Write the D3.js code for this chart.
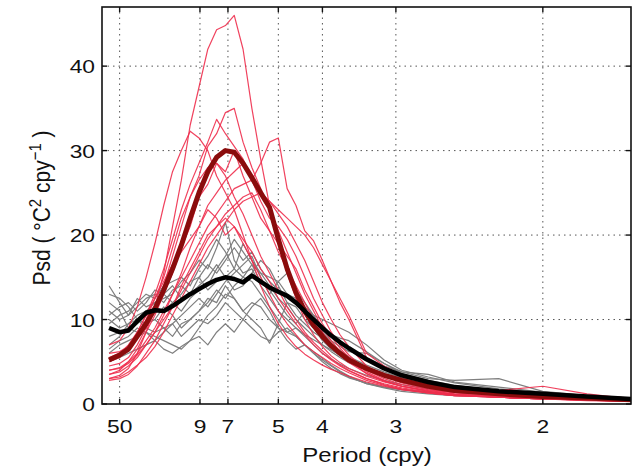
<!DOCTYPE html>
<html lang="en">
<head>
<meta charset="UTF-8">
<title>Psd</title>
<script src="https://d3js.org/d3.v7.min.js"></script>
<style>
    body { margin: 0; background: #fff; }
    text { font-family: "Liberation Sans", Arial, Helvetica, sans-serif; fill: #111; }
</style>
</head>
<body>
<script>
    // frequency (cycles per year) of each spectral estimate
    const freq = [0.008, 0.02, 0.03, 0.04, 0.05, 0.06, 0.07, 0.08, 0.09, 0.10,
                  0.11, 0.12, 0.13, 0.14, 0.15, 0.16, 0.17, 0.18, 0.19, 0.20,
                  0.21, 0.22, 0.23, 0.24, 0.25, 0.26, 0.27, 0.28, 0.30, 0.32,
                  0.34, 0.37, 0.40, 0.45, 0.50, 0.55, 0.60];

    const periodTicks = [50, 9, 7, 5, 4, 3, 2];
    const psdTicks = [0, 10, 20, 30, 40];

    // thin red runs
    const redRuns = [
        [3.0, 3.4, 4.2, 6.0, 8.5, 11.5, 15.5, 21.0, 26.5, 33.0, 37.5, 42.0, 44.3, 44.8, 46.0, 42.0, 35.0, 29.0, 23.5, 19.0, 15.5, 12.5, 10.0, 8.2, 6.8, 5.7, 4.9, 4.2, 3.3, 2.6, 2.1, 1.6, 1.2, 0.9, 0.7, 0.5, 0.4],
        [4.5, 4.8, 5.5, 7.0, 9.0, 11.0, 14.0, 17.5, 21.0, 24.5, 27.0, 30.5, 32.0, 34.5, 35.0, 31.0, 28.0, 25.5, 23.0, 20.5, 18.0, 15.5, 13.0, 11.0, 9.0, 7.5, 6.2, 5.2, 3.6, 2.7, 2.1, 1.5, 1.1, 0.8, 0.6, 0.5, 0.35],
        [5.5, 6.0, 7.0, 8.5, 10.5, 13.0, 16.0, 19.5, 23.0, 26.0, 28.5, 31.0, 33.7, 32.0, 30.5, 29.0, 26.5, 24.0, 22.0, 21.0, 19.5, 17.5, 15.0, 12.5, 10.5, 8.5, 7.0, 5.8, 4.0, 3.0, 2.3, 1.7, 1.3, 1.0, 0.8, 0.6, 0.45],
        [7.0, 7.5, 9.0, 11.5, 15.0, 19.0, 23.5, 27.5, 30.0, 32.3, 31.5, 30.0, 27.0, 25.0, 23.0, 20.0, 17.0, 14.0, 11.5, 9.5, 8.0, 6.8, 5.9, 5.2, 4.6, 4.1, 3.7, 3.3, 2.6, 2.1, 1.7, 1.3, 1.0, 0.8, 0.6, 0.5, 0.35],
        [4.0, 4.3, 5.0, 6.0, 7.5, 9.0, 11.0, 13.0, 15.0, 17.0, 19.0, 21.0, 22.5, 24.0, 25.5, 26.0, 26.5, 28.5, 31.0, 31.5, 25.5, 23.5, 20.5, 19.3, 17.0, 14.5, 12.0, 10.0, 5.5, 4.2, 3.2, 2.4, 1.7, 1.2, 0.9, 0.7, 0.5],
        [3.5, 3.8, 4.5, 5.5, 7.0, 8.5, 10.5, 13.0, 15.5, 18.5, 21.0, 23.5, 25.0, 26.5, 27.5, 28.5, 27.0, 25.0, 24.0, 22.5, 21.0, 19.0, 17.0, 14.5, 12.0, 10.0, 8.2, 6.8, 4.5, 3.3, 2.5, 1.8, 1.4, 1.0, 0.8, 0.6, 0.45],
        [6.0, 6.2, 6.8, 8.0, 10.0, 12.5, 15.0, 18.5, 22.0, 24.5, 26.5, 28.0, 28.5, 27.0, 24.5, 22.5, 20.0, 17.5, 15.5, 13.5, 11.5, 10.0, 8.5, 7.3, 6.3, 5.4, 4.6, 4.0, 3.0, 2.4, 1.9, 1.4, 1.1, 0.8, 0.6, 0.5, 0.35],
        [3.0, 3.2, 3.8, 4.6, 5.5, 6.8, 8.5, 10.5, 12.5, 14.5, 16.5, 18.5, 20.0, 21.5, 23.0, 24.0, 24.5, 25.0, 24.0, 23.0, 22.0, 21.0, 20.0, 18.5, 16.5, 14.5, 12.5, 10.5, 6.0, 4.5, 3.4, 2.6, 2.0, 1.4, 1.0, 0.7, 0.5],
        [2.8, 3.0, 3.5, 4.5, 6.0, 7.5, 9.5, 11.5, 14.0, 16.0, 18.0, 20.0, 21.0, 22.0, 21.0, 19.5, 18.0, 16.0, 14.5, 12.5, 11.0, 9.5, 8.2, 7.0, 6.0, 5.2, 4.5, 3.9, 3.0, 2.3, 1.8, 1.3, 1.0, 0.8, 0.6, 0.4, 0.3],
        [5.0, 5.5, 6.5, 8.5, 10.5, 12.5, 14.5, 16.5, 18.0, 19.5, 21.0, 23.0, 22.0, 20.0, 21.0, 19.0, 17.0, 15.0, 13.0, 11.0, 9.5, 8.2, 7.0, 6.2, 5.5, 4.8, 4.2, 3.7, 2.8, 2.2, 1.7, 1.3, 1.0, 0.8, 0.6, 0.45, 0.3],
        [4.0, 4.2, 4.8, 5.8, 7.0, 8.5, 10.0, 11.5, 13.5, 15.5, 17.5, 19.5, 21.0, 22.5, 23.5, 24.5, 25.0, 23.0, 20.5, 18.0, 16.0, 14.0, 12.0, 10.0, 8.5, 7.0, 5.8, 4.9, 3.6, 2.7, 2.1, 1.6, 1.4, 1.6, 2.1, 1.2, 0.6],
        [3.5, 4.0, 5.0, 6.5, 8.5, 10.5, 13.0, 15.5, 18.5, 21.0, 24.5, 26.0, 28.5, 27.5, 30.0, 27.0, 24.5, 22.0, 20.5, 19.0, 17.5, 16.0, 13.5, 11.5, 9.5, 8.0, 6.6, 5.5, 3.8, 2.8, 2.1, 1.5, 1.1, 0.8, 0.6, 0.45, 0.3]
    ];

    // thin grey runs
    const greyRuns = [
        [10.0, 9.0, 9.5, 10.5, 11.0, 12.0, 12.5, 13.0, 14.5, 15.5, 17.0, 16.0, 18.5, 21.5, 17.0, 15.5, 16.0, 14.0, 12.5, 11.0, 10.0, 9.0, 8.2, 7.6, 7.0, 6.4, 5.8, 5.2, 4.3, 3.6, 3.0, 2.3, 1.8, 1.3, 1.0, 0.8, 0.6],
        [14.0, 12.0, 10.5, 11.5, 12.5, 13.0, 12.0, 13.5, 14.0, 13.0, 15.0, 16.5, 15.5, 17.0, 18.5, 17.0, 18.0, 16.0, 14.5, 13.5, 13.0, 12.5, 11.5, 10.5, 10.0, 9.5, 9.0, 8.5, 7.0, 5.2, 4.0, 3.2, 2.5, 1.8, 1.3, 1.0, 0.7],
        [12.0, 11.0, 9.0, 8.5, 9.5, 10.0, 9.0, 9.5, 10.5, 11.5, 12.5, 11.5, 13.0, 14.5, 15.5, 16.5, 17.5, 15.0, 13.0, 14.5, 15.5, 13.5, 12.0, 10.5, 9.0, 8.0, 7.2, 6.5, 5.5, 4.5, 3.8, 3.0, 2.8, 3.0, 1.5, 1.0, 0.7],
        [6.0, 7.0, 7.5, 8.0, 8.5, 8.0, 7.5, 7.0, 6.5, 7.5, 9.0, 10.5, 11.5, 13.0, 12.5, 11.0, 10.0, 9.0, 7.2, 9.5, 12.0, 11.5, 10.0, 9.0, 7.5, 6.5, 5.7, 5.0, 4.0, 3.3, 2.7, 2.1, 1.6, 1.2, 0.9, 0.7, 0.5],
        [9.5, 10.5, 11.0, 12.0, 13.0, 12.5, 14.0, 14.5, 15.0, 14.0, 16.0, 17.5, 19.5, 18.0, 16.0, 15.0, 16.5, 15.5, 14.0, 12.5, 11.5, 10.0, 9.0, 8.0, 7.0, 6.2, 5.5, 4.9, 4.0, 3.3, 2.7, 2.2, 1.7, 1.3, 1.0, 0.8, 0.6],
        [5.0, 5.5, 6.0, 6.5, 7.0, 7.5, 6.5, 6.0, 6.8, 7.5, 8.0, 7.0, 8.5, 9.5, 8.5, 10.0, 9.0, 8.0, 7.5, 8.5, 9.0, 8.0, 7.0, 6.0, 5.2, 4.5, 3.8, 3.2, 2.4, 1.9, 1.5, 1.2, 1.0, 0.8, 0.6, 0.5, 0.4],
        [11.0, 10.0, 10.5, 12.5, 11.5, 12.0, 13.0, 12.0, 11.0, 12.5, 13.5, 14.0, 16.0, 17.5, 19.5, 18.0, 16.5, 14.5, 13.5, 12.0, 10.5, 9.5, 11.0, 10.0, 8.5, 7.5, 6.8, 6.2, 6.0, 4.8, 3.8, 3.5, 2.6, 2.0, 1.4, 1.0, 0.7],
        [8.0, 8.5, 9.0, 9.5, 10.5, 11.5, 11.0, 12.0, 13.0, 14.5, 15.0, 13.5, 14.5, 15.0, 13.5, 14.0, 15.5, 17.0, 16.0, 14.0, 12.0, 10.5, 9.5, 8.5, 7.8, 7.0, 6.3, 5.6, 4.6, 3.8, 3.1, 2.5, 2.0, 1.5, 1.1, 0.8, 0.6],
        [13.0, 12.5, 11.5, 10.0, 9.5, 10.0, 11.5, 10.5, 9.0, 10.0, 11.0, 12.0, 13.5, 12.5, 14.0, 15.0, 14.5, 13.0, 11.5, 10.0, 8.5, 9.0, 8.0, 7.0, 6.0, 5.3, 4.7, 4.2, 3.4, 2.8, 2.3, 1.8, 1.4, 1.1, 0.8, 0.6, 0.45],
        [7.0, 8.0, 9.5, 10.0, 9.0, 8.5, 9.0, 8.0, 9.5, 10.0, 11.0, 12.5, 12.0, 14.0, 12.5, 11.0, 12.0, 11.5, 10.0, 9.0, 8.5, 8.0, 7.0, 6.2, 5.4, 4.6, 3.9, 3.3, 2.4, 2.0, 1.7, 1.4, 1.1, 0.9, 0.7, 0.5, 0.4],
        [10.5, 11.5, 12.0, 11.0, 12.0, 13.5, 13.0, 14.0, 12.5, 13.0, 14.0, 15.0, 16.5, 15.0, 16.0, 19.0, 17.0, 15.5, 15.0, 14.5, 13.0, 12.0, 11.0, 10.0, 9.0, 8.2, 7.8, 7.5, 6.2, 4.8, 3.6, 2.8, 2.2, 1.6, 1.2, 0.9, 0.6],
        [6.5, 7.5, 8.0, 9.0, 8.5, 7.5, 8.5, 9.5, 8.0, 9.0, 10.0, 9.5, 10.5, 12.0, 11.0, 10.0, 11.5, 12.5, 11.0, 9.0, 7.5, 6.5, 7.0, 6.0, 5.0, 4.2, 3.6, 3.1, 2.5, 2.0, 1.7, 1.4, 1.1, 0.9, 0.7, 0.55, 0.4]
    ];

    // ensemble means
    const redMean = [5.2, 5.8, 6.5, 8.0, 9.5, 11.3, 13.5, 16.0, 18.8, 22.0, 25.0, 27.5, 29.2, 30.0, 29.8, 28.5, 26.8, 25.0, 23.3, 19.5,
                     16.0, 13.2, 11.0, 9.3, 8.0, 6.9, 6.0, 5.2, 4.2, 3.4, 2.8, 2.1, 1.6, 1.2, 0.9, 0.7, 0.5];
    const greyMean = [9.0, 8.5, 8.7, 9.8, 10.8, 11.1, 11.0, 11.6, 12.3, 13.0, 13.6, 14.2, 14.7, 15.0, 14.8, 14.4, 15.2, 14.5, 13.8, 13.3,
                      12.8, 12.0, 11.0, 10.0, 9.0, 8.1, 7.3, 6.6, 5.3, 4.2, 3.4, 2.6, 2.0, 1.5, 1.2, 0.9, 0.6];

    const width = 638;
    const height = 470;

    const svg = d3.select("body").append("svg")
            .attr("width", width).attr("height", height);

    const x = d3.scaleLinear().domain([0, 0.6]).range([102, 631]);
    const y = d3.scaleLinear().domain([0, 47]).range([404, 7]);

    const [x0, x1] = x.range();
    const [y0, y1] = y.range();

    // dotted grid
    const grid = svg.append("g")
            .style("stroke", "#555")
            .style("stroke-width", 1)
            .style("stroke-dasharray", "1.5,4");

    grid.selectAll("line.v").data(periodTicks).enter().append("line")
            .attr("x1", d => x(1 / d)).attr("x2", d => x(1 / d))
            .attr("y1", y0).attr("y2", y1);

    grid.selectAll("line.h").data(psdTicks.filter(d => d > 0)).enter().append("line")
            .attr("x1", x0).attr("x2", x1)
            .attr("y1", d => y(d)).attr("y2", d => y(d));

    svg.append("clipPath").attr("id", "clip")
            .append("rect").attr("x", x0).attr("y", y1)
            .attr("width", x1 - x0).attr("height", y0 - y1);

    const line = d3.line()
            .x((d, i) => x(freq[i]))
            .y(d => y(d));

    const plot = svg.append("g").attr("clip-path", "url(#clip)")
            .style("fill", "none")
            .style("stroke-linejoin", "round");

    plot.selectAll("path.grey").data(greyRuns).enter().append("path")
            .attr("class", "grey")
            .attr("d", line)
            .style("stroke", "#7f7f7f")
            .style("stroke-width", 1.2);

    plot.selectAll("path.red").data(redRuns).enter().append("path")
            .attr("class", "red")
            .attr("d", line)
            .style("stroke", "#ee2d4c")
            .style("stroke-width", 1.2)
            .style("stroke-opacity", .9);

    plot.append("path").datum(redMean)
            .attr("d", line)
            .style("stroke", "#8a0c0c")
            .style("stroke-width", 5);

    plot.append("path").datum(greyMean)
            .attr("d", line)
            .style("stroke", "#000")
            .style("stroke-width", 4.5);

    // box and inward ticks
    svg.append("rect")
            .attr("x", x0).attr("y", y1)
            .attr("width", x1 - x0).attr("height", y0 - y1)
            .style("fill", "none").style("stroke", "#111").style("stroke-width", 1.6);

    const ticks = svg.append("g").style("stroke", "#111").style("stroke-width", 1.4);
    periodTicks.forEach(p => {
        ticks.append("line").attr("x1", x(1 / p)).attr("x2", x(1 / p)).attr("y1", y0).attr("y2", y0 - 5);
        ticks.append("line").attr("x1", x(1 / p)).attr("x2", x(1 / p)).attr("y1", y1).attr("y2", y1 + 5);
    });
    psdTicks.forEach(v => {
        ticks.append("line").attr("x1", x0).attr("x2", x0 + 5).attr("y1", y(v)).attr("y2", y(v));
        ticks.append("line").attr("x1", x1).attr("x2", x1 - 5).attr("y1", y(v)).attr("y2", y(v));
    });

    // tick labels
    svg.selectAll("text.xt").data(periodTicks).enter().append("text")
            .attr("transform", d => `translate(${x(1 / d)},433) scale(1.2,1)`)
            .attr("text-anchor", "middle")
            .style("font-size", "19px")
            .text(d => d);

    svg.selectAll("text.yt").data(psdTicks).enter().append("text")
            .attr("transform", d => `translate(95,${y(d) + 7}) scale(1.2,1)`)
            .attr("text-anchor", "end")
            .style("font-size", "19px")
            .text(d => d);

    // axis labels
    svg.append("text")
            .attr("transform", "translate(367,462) scale(1.2,1)")
            .attr("text-anchor", "middle")
            .style("font-size", "20px")
            .text("Period (cpy)");

    const ylab = svg.append("text")
            .attr("transform", "translate(50,208) rotate(-90) scale(1,1.15)")
            .attr("text-anchor", "middle")
            .style("font-size", "21px");
    ylab.append("tspan").text("Psd ( \u00B0C");
    ylab.append("tspan").attr("dy", -8).style("font-size", "15px").text("2");
    ylab.append("tspan").attr("dy", 8).text(" cpy");
    ylab.append("tspan").attr("dy", -8).style("font-size", "15px").text("\u22121");
    ylab.append("tspan").attr("dy", 8).text(" )");
</script>
</body>
</html>
